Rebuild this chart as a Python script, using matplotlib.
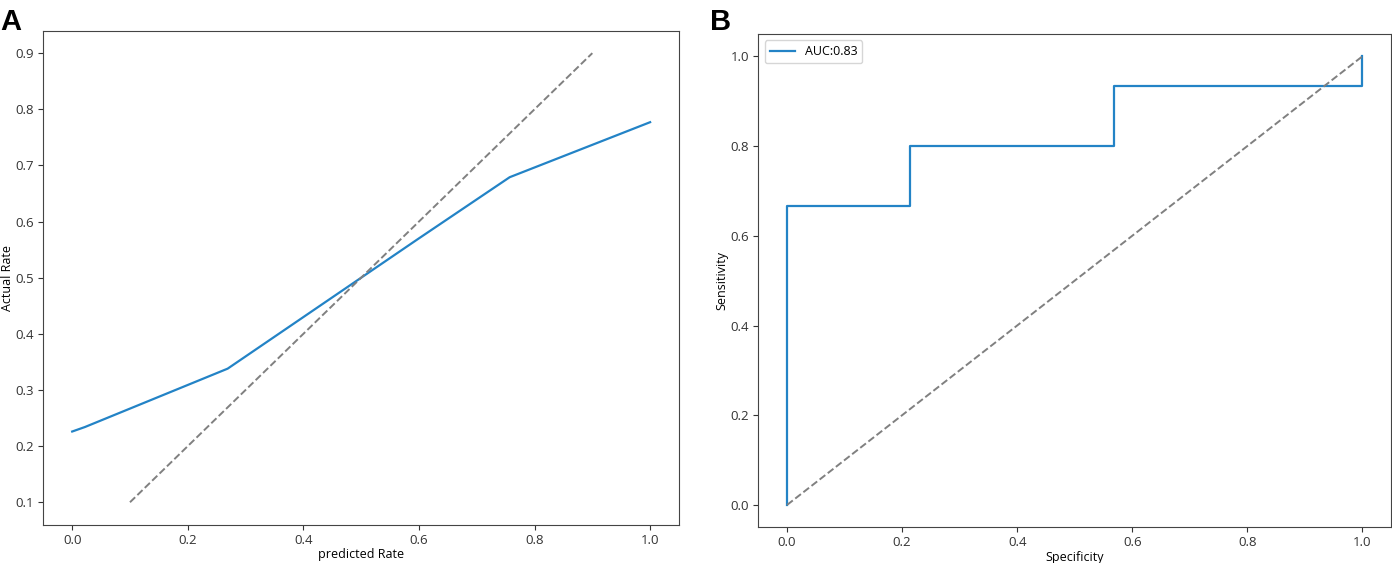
import matplotlib
matplotlib.use("Agg")
from matplotlib import pyplot as plt

# calibration curve (panel A)
pred_rate = [0.0, 0.022, 0.269, 0.597, 0.757, 1.0]
actual_rate = [0.226, 0.234, 0.338, 0.568, 0.679, 0.777]
ideal_line = [0.1, 0.9]

# ROC curve (panel B)
specificity = [0.0, 0.0, 0.0, 0.213, 0.213, 0.569, 0.569, 1.0, 1.0]
sensitivity = [0.0, 0.17, 0.667, 0.667, 0.8, 0.8, 0.933, 0.933, 1.0]
chance_line = [0.0, 1.0]
auc_label = "AUC:0.83"

plt.rcParams["font.family"] = ["Open Sans", "DejaVu Sans"]
plt.rcParams["font.size"] = 9

fig = plt.figure(figsize=(13.92, 5.63), dpi=100)
ax1 = fig.add_axes([0.0311, 0.0680, 0.4567, 0.8775])
ax2 = fig.add_axes([0.5448, 0.0634, 0.4545, 0.8762])

blue = "#2383c6"
grey = "#808080"

ax1.plot(pred_rate, actual_rate, color=blue, lw=1.6)
ax1.plot(ideal_line, ideal_line, color=grey, lw=1.4, linestyle="--")
ax1.set_xlim(-0.05, 1.05)
ax1.set_ylim(0.06, 0.94)
ax1.set_xticks([0.0, 0.2, 0.4, 0.6, 0.8, 1.0])
ax1.set_yticks([0.1, 0.2, 0.3, 0.4, 0.5, 0.6, 0.7, 0.8, 0.9])
ax1.set_xlabel("predicted Rate", labelpad=1)
ax1.set_ylabel("Actual Rate", labelpad=1)

ax2.plot(specificity, sensitivity, color=blue, lw=1.6, label=auc_label)
ax2.plot(chance_line, chance_line, color=grey, lw=1.4, linestyle="--")
ax2.set_xlim(-0.05, 1.05)
ax2.set_ylim(-0.05, 1.05)
ax2.set_xticks([0.0, 0.2, 0.4, 0.6, 0.8, 1.0])
ax2.set_yticks([0.0, 0.2, 0.4, 0.6, 0.8, 1.0])
ax2.set_xlabel("Specificity", labelpad=1)
ax2.set_ylabel("Sensitivity", labelpad=2)
ax2.legend(loc="upper left")

for ax in (ax1, ax2):
    for s in ax.spines.values():
        s.set_color("#444444")
    ax.tick_params(colors="#333333", labelcolor="#333333", labelsize=9.5, pad=3)

fig.text(0.0, 0.985, "A", fontsize=21, fontweight="bold",
         family="Liberation Sans", va="top", ha="left")
fig.text(0.51, 0.985, "B", fontsize=21, fontweight="bold",
         family="Liberation Sans", va="top", ha="left")

fig.savefig("out.png", dpi=100)
